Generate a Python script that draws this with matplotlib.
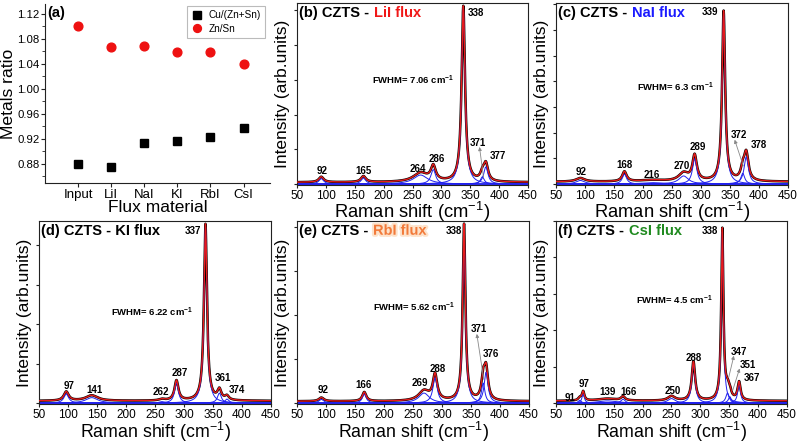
import matplotlib
matplotlib.use('Agg')
import matplotlib.pyplot as plt
import numpy as np
from matplotlib.ticker import MultipleLocator, FormatStrFormatter
import matplotlib.patheffects as pe

plt.rcParams['font.family'] = ['Liberation Sans', 'DejaVu Sans']
plt.rcParams['mathtext.fontset'] = 'custom'
plt.rcParams['mathtext.rm'] = 'Liberation Sans'
plt.rcParams['mathtext.bf'] = 'Liberation Sans:bold'
plt.rcParams['mathtext.it'] = 'Liberation Sans:italic'

# ---------------- data ----------------
flux = ['Input', 'LiI', 'NaI', 'KI', 'RbI', 'CsI']
cu_ratio = [0.880, 0.874, 0.913, 0.917, 0.923, 0.937]
zn_sn = [1.100, 1.067, 1.069, 1.059, 1.059, 1.039]

# Lorentzian fit components: position, height (norm.), FWHM
b_pos = [92, 165, 264, 286, 338, 371, 377]
b_h = [0.030, 0.033, 0.050, 0.080, 0.970, 0.040, 0.095]
b_w = [10, 10, 30, 10, 7.06, 8, 9]

c_pos = [92, 168, 216, 270, 289, 339, 372, 378]
c_h = [0.020, 0.055, 0.008, 0.045, 0.140, 0.940, 0.060, 0.150]
c_w = [18, 9, 50, 20, 9, 6.3, 8, 9]

d_pos = [97, 141, 262, 287, 337, 361, 374]
d_h = [0.050, 0.030, 0.008, 0.110, 0.970, 0.055, 0.022]
d_w = [10, 25, 12, 8, 6.22, 8, 8]

e_pos = [92, 166, 269, 288, 338, 371, 376]
e_h = [0.020, 0.050, 0.055, 0.140, 0.970, 0.110, 0.170]
e_w = [10, 8, 22, 9, 5.62, 7, 8]

f_pos = [91, 97, 139, 166, 250, 288, 338, 347, 351, 367]
f_h = [0.015, 0.050, 0.012, 0.022, 0.025, 0.215, 0.940, 0.055, 0.035, 0.100]
f_w = [6, 5, 40, 8, 15, 7, 4.5, 7, 6, 6]

baselines = {'b': 0.010, 'c': 0.013, 'd': 0.012, 'e': 0.010, 'f': 0.012}
fwhm_main = {'b': '7.06', 'c': '6.3', 'd': '6.22', 'e': '5.62', 'f': '4.5'}

# peak labels: text, x, y (data coords)
labels = {
    'b': [('92', 93, 0.073), ('165', 165, 0.073), ('264', 259, 0.082), ('286', 292, 0.136),
          ('338', 360, 0.945), ('371', 364, 0.227), ('377', 398, 0.155)],
    'c': [('92', 94, 0.067), ('168', 168, 0.104), ('216', 216, 0.051), ('270', 266, 0.100),
          ('289', 295, 0.205), ('339', 315, 0.950), ('372', 365, 0.270), ('378', 400, 0.218)],
    'd': [('97', 101, 0.094), ('141', 146, 0.072), ('262', 260, 0.063), ('287', 293, 0.167),
          ('337', 315, 0.946), ('361', 367, 0.140), ('374', 391, 0.072)],
    'e': [('92', 95, 0.071), ('166', 165, 0.099), ('269', 262, 0.110), ('288', 293, 0.186),
          ('338', 320, 0.946), ('371', 363, 0.405), ('376', 384, 0.268)],
    'f': [('91', 74, 0.027), ('97', 98, 0.104), ('139', 139, 0.060), ('166', 175, 0.060),
          ('250', 252, 0.068), ('288', 289, 0.250), ('338', 317, 0.943), ('347', 366, 0.280),
          ('351', 383, 0.210), ('367', 389, 0.137)],
}
arrows = {
    'b': [((366, 0.205), (373, 0.036))],
    'c': [((358, 0.245), (373, 0.10))],
    'e': [((360, 0.38), (372, 0.13))],
    'f': [((358, 0.26), (349, 0.14)), ((368, 0.19), (356, 0.07))],
}
fwhm_pos = {'b': (251, 0.573), 'c': (255, 0.533), 'd': (245, 0.498), 'e': (251, 0.527), 'f': (255, 0.566)}
ystep = {'b': 0.192, 'c': 0.142, 'd': 0.217, 'e': 0.242, 'f': 0.20}
titles = {'b': ('(b) CZTS - ', 'LiI flux', '#f01818'),
          'c': ('(c) CZTS - ', 'NaI flux', '#1a1aff'),
          'd': ('(d) CZTS - KI flux', '', 'black'),
          'e': ('(e) CZTS - ', 'RbI flux', '#f27a3a'),
          'f': ('(f) CZTS - ', 'CsI flux', '#1f8a1f')}

spectra = {'b': (b_pos, b_h, b_w), 'c': (c_pos, c_h, c_w), 'd': (d_pos, d_h, d_w),
           'e': (e_pos, e_h, e_w), 'f': (f_pos, f_h, f_w)}

# ---------------- figure ----------------
W, H = 800, 442
fig = plt.figure(figsize=(8, 4.42), dpi=100)


def px_axes(l, t, r, b):
    return fig.add_axes([l / W, 1 - b / H, (r - l) / W, (b - t) / H])


spine_col = '#222222'

# panel (a)
axa = px_axes(45, 4, 270, 183)
xs = np.arange(len(flux))
axa.plot(xs, cu_ratio, ls='none', marker='s', ms=6, color='black', label='Cu/(Zn+Sn)')
axa.plot(xs, zn_sn, ls='none', marker='o', ms=6.3, color='#ee1111', label='Zn/Sn')
axa.set_xlim(-1, 5.8)
axa.set_ylim(0.849, 1.136)
axa.set_xticks(xs)
axa.set_xticklabels(flux, fontsize=9.5)
axa.yaxis.set_major_locator(MultipleLocator(0.04))
axa.yaxis.set_minor_locator(MultipleLocator(0.02))
axa.yaxis.set_major_formatter(FormatStrFormatter('%.2f'))
axa.tick_params(axis='y', labelsize=8.2, direction='out', length=3, color=spine_col, pad=1)
axa.tick_params(axis='y', which='minor', length=2, color=spine_col)
axa.tick_params(axis='x', direction='out', length=3, color=spine_col, pad=1.5)
for s in ['top', 'right']:
    axa.spines[s].set_visible(False)
for s in ['left', 'bottom']:
    axa.spines[s].set_color(spine_col)
axa.set_ylabel('Metals ratio', fontsize=12.6, labelpad=1.0)
axa.set_xlabel('Flux material', fontsize=12.5, labelpad=-1)
axa.text(0.01, 0.99, '(a)', transform=axa.transAxes, fontsize=10.5, fontweight='bold', va='top')
leg = axa.legend(loc='upper right', bbox_to_anchor=(1.0, 1.015), fontsize=7.2, frameon=True,
                 fancybox=False, edgecolor='#aaaaaa', handletextpad=0.6, borderpad=0.4,
                 labelspacing=0.35, handlelength=1.2, markerscale=0.9)
leg.get_frame().set_linewidth(0.8)

x = np.linspace(50, 450, 2401)


def lor(xv, x0, h, w):
    return h / (1.0 + ((xv - x0) / (w / 2.0)) ** 2)


boxes = {'b': (297, 3, 528, 185), 'c': (556, 3, 788, 185),
         'd': (39, 221, 271, 404), 'e': (297, 221, 529, 404), 'f': (556, 221, 787, 404)}

for key in ['b', 'c', 'd', 'e', 'f']:
    ax = px_axes(*boxes[key])
    pos, hh, ww = spectra[key]
    comps = [lor(x, p, h_, w_) for p, h_, w_ in zip(pos, hh, ww)]
    total = np.sum(comps, axis=0) + baselines[key]
    ax.plot(x, total, color='black', lw=1.8, zorder=2)
    for cmp_ in comps:
        ax.plot(x, cmp_, color='#2020ee', lw=0.7, zorder=2.5)
    ax.plot(x, total, color='#e61b1b', lw=1.0, zorder=3)
    ax.set_xlim(50, 450)
    ax.set_ylim(-0.005, 1.0)
    ax.xaxis.set_major_locator(MultipleLocator(50))
    ax.yaxis.set_major_locator(MultipleLocator(ystep[key]))
    ax.set_yticklabels([])
    ax.tick_params(axis='both', direction='out', length=2.5, color=spine_col, labelsize=8.5, pad=0.8)
    for s in ax.spines.values():
        s.set_color(spine_col)
    bottom_row = key in ('d', 'e', 'f')
    ax.set_xlabel('Raman shift (cm$^{-1}$)', fontsize=12.8 if bottom_row else 13.2,
                  labelpad=-0.6 if bottom_row else -1.0)
    ax.set_ylabel('Intensity (arb.units)', fontsize=12.5, labelpad=1.5)
    for txt, lx, ly in labels[key]:
        ax.text(lx, ly, txt, fontsize=7.0, fontweight='bold', ha='center', va='center', zorder=6)
    for (p1, p2) in arrows.get(key, []):
        ax.annotate('', xy=p1, xytext=p2,
                    arrowprops=dict(arrowstyle='-|>', color='#888888', lw=0.6,
                                    mutation_scale=5, shrinkA=0, shrinkB=0), zorder=5)
    fx, fy = fwhm_pos[key]
    ax.text(fx, fy, 'FWHM= %s cm$^{\\mathbf{-1}}$' % fwhm_main[key], fontsize=6.8,
            fontweight='bold', ha='center', va='center', zorder=6)
    t1, t2, col = titles[key]
    t = ax.text(0.008, 0.985, t1, transform=ax.transAxes, fontsize=10.5, fontweight='bold',
                va='top', ha='left', zorder=7)
    if t2:
        kw = {}
        if key == 'e':
            kw['path_effects'] = [pe.withStroke(linewidth=3, foreground='#fde3cc')]
        ax.annotate(t2, xy=(1, 0), xycoords=t, xytext=(0.5, 0), textcoords='offset points',
                    va='bottom', ha='left', fontsize=10.5,
                    fontweight='bold', color=col, zorder=7, **kw)

fig.savefig('out.png', dpi=100)
